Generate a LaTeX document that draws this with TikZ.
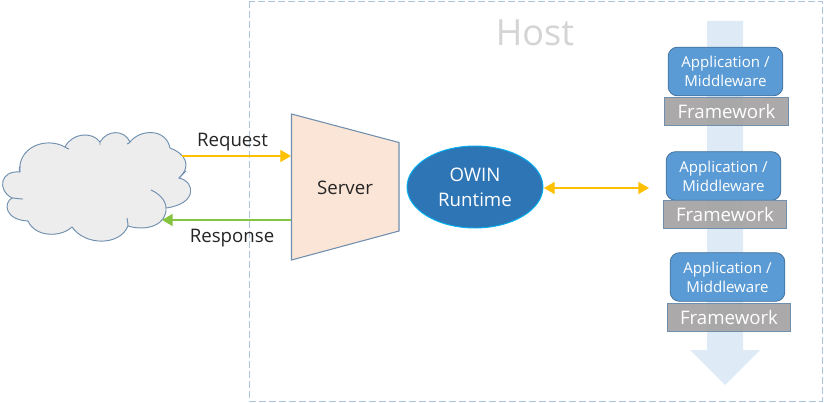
\documentclass[tikz,border=0pt]{standalone}
\usepackage{fontspec}
\setmainfont{Open Sans}
\usetikzlibrary{arrows.meta,shapes.geometric}
\definecolor{edgeblue}{HTML}{6F8FAF}
\definecolor{appblue}{HTML}{5B9BD5}
\definecolor{appedge}{HTML}{41719C}
\definecolor{owinblue}{HTML}{2E75B6}
\definecolor{owinedge}{HTML}{00B0F0}
\definecolor{flowblue}{HTML}{DEEBF7}
\definecolor{fwgrey}{HTML}{A5A3A3}
\definecolor{peach}{HTML}{FBE5D6}
\definecolor{cloudgrey}{HTML}{EDEDED}
\definecolor{hostdash}{HTML}{A9C4DE}
\definecolor{amberline}{HTML}{FFC000}
\definecolor{greenline}{HTML}{84C441}
\definecolor{hostgrey}{HTML}{D4D4D4}
\definecolor{inktext}{HTML}{262626}
\tikzset{
  x=0.75pt,y=-0.75pt,
  appbox/.style={draw=appedge,line width=0.6pt,fill=appblue,rounded corners=7pt,minimum width=86pt,minimum height=36.5pt,inner sep=0pt,align=center,text=white,font=\fontsize{11.3}{14.2}\selectfont},
  fwbox/.style={draw=edgeblue,line width=0.7pt,fill=fwgrey,fill opacity=0.93,text opacity=1,minimum width=92.5pt,minimum height=21.5pt,inner sep=0pt,text=white,font=\fontsize{14}{16}\selectfont},
  lbl/.style={inner sep=0pt,text=inktext,font=\fontsize{14}{16}\selectfont},
  conn/.style={line width=1.1pt,-{Triangle[length=8pt,width=9pt]}},
  conntwo/.style={line width=1.1pt,{Triangle[length=8pt,width=9pt]}-{Triangle[length=8pt,width=9pt]}},
}
\begin{document}
\begin{tikzpicture}
\useasboundingbox (0,0) rectangle (825,403);
\fill[white] (0,0) rectangle (825,403);
% host
\draw[hostdash,line width=0.7pt,dash pattern=on 5pt off 2.5pt] (249,1) rectangle (822,401);
\node[inner sep=0pt,text=hostgrey,font=\fontsize{27}{30}\selectfont] (host) at (535,33) {Host};
% flow arrow
\fill[flowblue] (707,21) -- (743,21) -- (743,350) -- (760,350) -- (725,385) -- (690,350) -- (707,350) -- cycle;
% cloud
\draw[edgeblue,line width=0.7pt,fill=cloudgrey]
  (20,172) .. controls (17,148) and (45,136) .. (65,147)
  .. controls (72,133) and (92,131) .. (100,142)
  .. controls (107,130) and (124,129) .. (130,142)
  .. controls (140,129) and (166,128) .. (170,148)
  .. controls (184,153) and (193,165) .. (179,178)
  .. controls (196,182) and (197,204) .. (166,208)
  .. controls (167,224) and (148,232) .. (128,226)
  .. controls (120,246) and (85,246) .. (72,227)
  .. controls (60,238) and (35,237) .. (28,221)
  .. controls (5,220) and (3,203) .. (12,198)
  .. controls (-3,190) and (0,170) .. (20,172) -- cycle;
\draw[edgeblue,line width=0.7pt]
  (20,172) .. controls (19,170) and (19,168) .. (20,166)
  (65,147) .. controls (66,148) and (67,148) .. (69,149)
  (100,142) .. controls (100,143) and (100,144) .. (100,145)
  (130,142) .. controls (129,143) and (128,144) .. (127,144)
  (179,178) .. controls (181,176) and (183,174) .. (186,171)
  (151,190) .. controls (160,194) and (166,201) .. (166,208)
  (128,226) .. controls (128,222) and (127,220) .. (127,218)
  (12,198) .. controls (15,198) and (19,199) .. (23,199);
\coordinate (cloudreq) at (182,156);
\coordinate (cloudres) at (162,220);
% server
\draw[edgeblue,line width=0.8pt,fill=peach] (291.5,114) -- (399,142.5) -- (399,231) -- (291.5,260) -- cycle;
\node[lbl] (server) at (345,188) {Server};
\coordinate (srvreq) at (291,156);
\coordinate (srvres) at (291,220);
% OWIN
\node[ellipse,draw=owinedge,line width=0.7pt,fill=owinblue,minimum width=102pt,minimum height=61.5pt,inner sep=0pt,align=center,text=white,font=\fontsize{14}{18.8}\selectfont] (owin) at (475,187) {OWIN\\Runtime};
\coordinate (owinport) at (544,188);
\coordinate (midstack) at (649,188);
% stack
\node[appbox] (a1) at (725.5,71.5) {Application /\\Middleware};
\node[fwbox] (f1) at (726.5,111.5) {Framework};
\node[appbox] (a2) at (723.5,176) {Application /\\Middleware};
\node[fwbox] (f2) at (725,214.5) {Framework};
\node[appbox] (a3) at (727.5,277) {Application /\\Middleware};
\node[fwbox] (f3) at (729,317.5) {Framework};
% connectors
\draw[conn,amberline] (cloudreq) -- (srvreq);
\draw[conn,greenline] (srvres) -- (cloudres);
\draw[conntwo,amberline] (owinport) -- (midstack);
% labels
\node[lbl] (req) at (232.5,142) {Request};
\node[lbl] (res) at (232,238) {Response};
\end{tikzpicture}
\end{document}
